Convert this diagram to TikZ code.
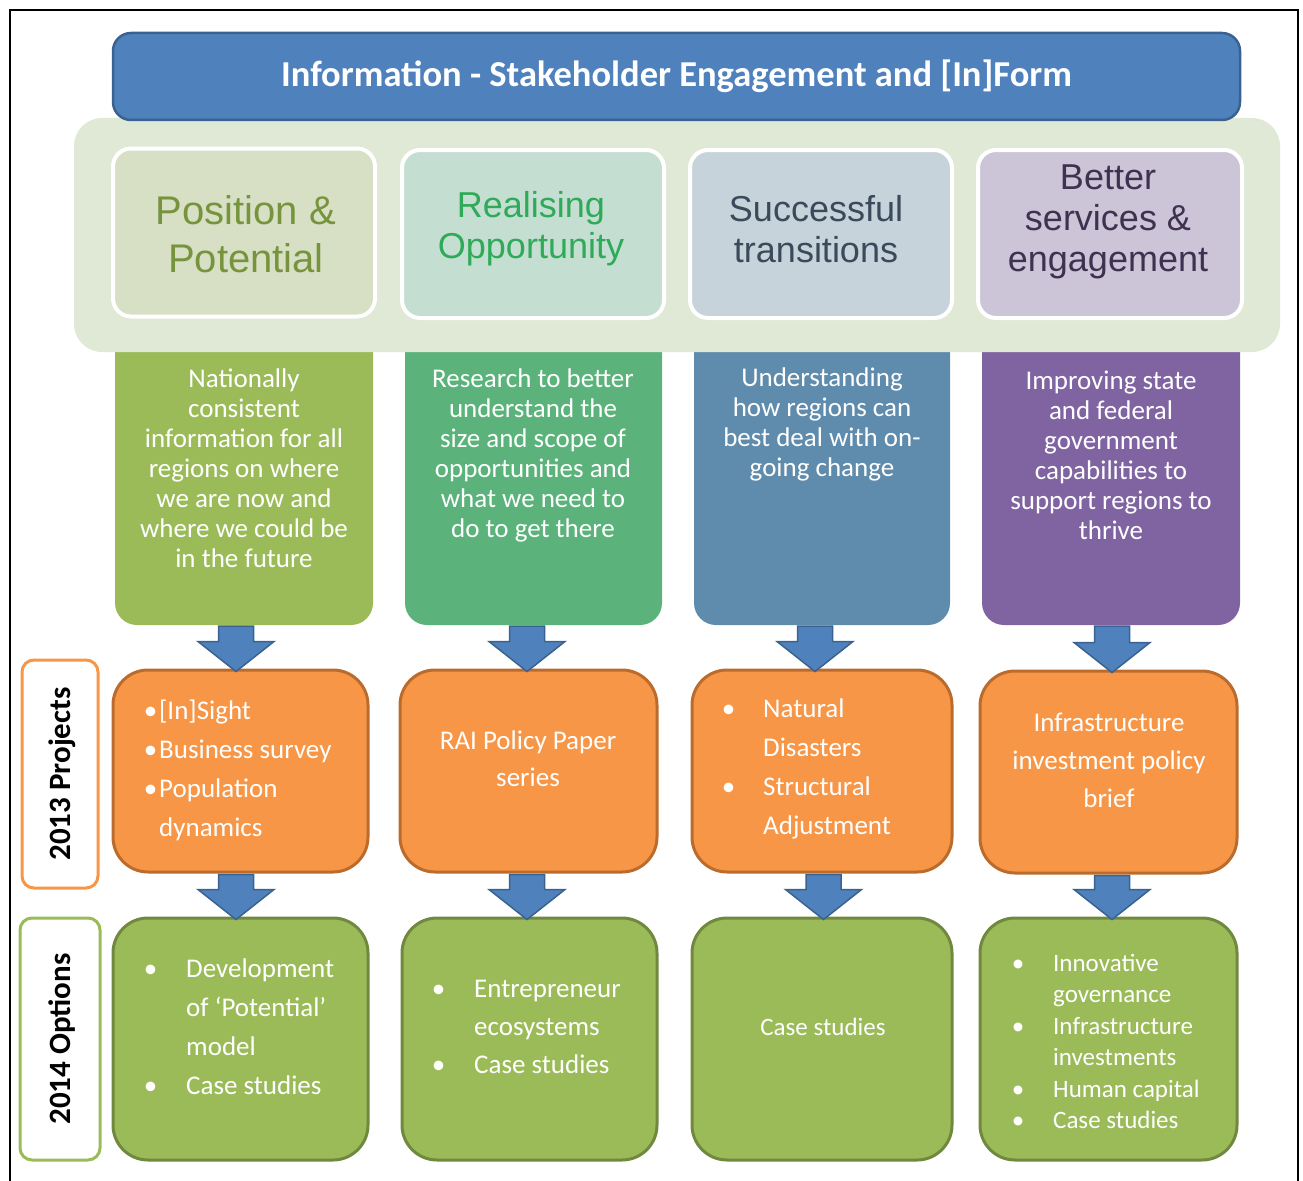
\documentclass[tikz,border=0pt]{standalone}
\usepackage{fontspec}
\setmainfont{Carlito}
\newfontfamily\arialf{Liberation Sans}
\usetikzlibrary{calc}
\definecolor{titleblue}{HTML}{4F81BD}
\definecolor{titleline}{HTML}{3A6291}
\definecolor{panel}{HTML}{E0E8D6}
\definecolor{hAfill}{HTML}{D7E0C5}
\definecolor{hBfill}{HTML}{C5DED2}
\definecolor{hCfill}{HTML}{C6D3DB}
\definecolor{hDfill}{HTML}{CCC4D7}
\definecolor{hAtext}{HTML}{77933C}
\definecolor{hBtext}{HTML}{2EAA58}
\definecolor{hCtext}{HTML}{3B4A5B}
\definecolor{hDtext}{HTML}{3F3251}
\definecolor{dA}{HTML}{9BBB59}
\definecolor{dB}{HTML}{5BB37B}
\definecolor{dC}{HTML}{5F8CAC}
\definecolor{dD}{HTML}{8064A2}
\definecolor{orangefill}{HTML}{F79646}
\definecolor{orangeline}{HTML}{BB6C2D}
\definecolor{greenfill}{HTML}{9BBB59}
\definecolor{greenline}{HTML}{71893F}
\newcommand{\blt}[1]{\llap{\textbullet\hspace{#1}}}
\newcommand{\blockdown}[3]{%
  \filldraw[barrow] let \p1=($(#2.north)+(#3,0)$), \p2=(#1.south) in
   (\x1-17.5pt,\y2-1pt) -- (\x1+17.5pt,\y2-1pt) -- (\x1+17.5pt,\y1+27pt) -- (\x1+38pt,\y1+27pt)
   -- (\x1,\y1-3pt) -- (\x1-38pt,\y1+27pt) -- (\x1-17.5pt,\y1+27pt) -- cycle;}
\begin{document}
\begin{tikzpicture}[x=1pt,y=-1pt,
  descbox/.style={rounded corners=22pt, inner sep=0pt, minimum height=330pt},
  hdrbox/.style={draw=white, line width=4pt, rounded corners=18pt, inner sep=0pt, minimum height=168pt},
  hdrtext/.style={font=\arialf\fontsize{36}{41}\selectfont, align=center, inner sep=0pt},
  desctext/.style={font=\fontsize{27}{30}\selectfont, text=white, align=center, inner sep=0pt},
  orangebox/.style={fill=orangefill, draw=orangeline, line width=3pt, rounded corners=35pt, inner sep=0pt, minimum height=202pt},
  greenbox/.style={fill=greenfill, draw=greenline, line width=3pt, rounded corners=35pt, inner sep=0pt, minimum height=242pt},
  boxtext/.style={font=\fontsize{27}{39}\selectfont, text=white, inner sep=0pt},
  sidebox/.style={fill=white, line width=3pt, rounded corners=12pt, inner sep=0pt},
  sidetext/.style={font=\bfseries\fontsize{31}{31}\selectfont, rotate=90, inner sep=0pt},
  barrow/.style={fill=titleblue, draw=titleline, line width=1.5pt, line join=miter}
]
\useasboundingbox (0,0) rectangle (1303,1180);
\draw[line width=2pt] (10,1181) -- (10,10) -- (1298,10) -- (1298,1181);

% description columns (tops hidden under the panel)
\node[descbox, fill=dA, minimum width=258pt] (d1) at (244,460) {};
\node[descbox, fill=dB, minimum width=257pt] (d2) at (533.5,460) {};
\node[descbox, fill=dC, minimum width=256pt] (d3) at (822,460) {};
\node[descbox, fill=dD, minimum width=258pt] (d4) at (1111,460) {};

% panel and title
\node[fill=panel, rounded corners=28pt, minimum width=1206pt, minimum height=234pt, inner sep=0pt] (panel) at (677,235) {};
\node[fill=titleblue, draw=titleline, line width=2.5pt, rounded corners=18pt, minimum width=1127pt, minimum height=87pt, inner sep=0pt,
  text=white, font=\bfseries\fontsize{36.5}{36.5}\selectfont] (title) at (676.5,76.5) {Information - Stakeholder Engagement and [In]Form};

% header boxes
\node[hdrbox, fill=hAfill, minimum width=262pt] (h1) at (244,232.5) {};
\node[hdrbox, fill=hBfill, minimum width=262pt] (h2) at (533,234) {};
\node[hdrbox, fill=hCfill, minimum width=262pt] (h3) at (821,234) {};
\node[hdrbox, fill=hDfill, minimum width=264pt] (h4) at (1110,234) {};
\node[hdrtext, text=hAtext, font=\arialf\fontsize{40}{48}\selectfont] (h1t) at (246,234) {Position \&\\Potential};
\node[hdrtext, text=hBtext] (h2t) at (531,229) {Realising\\Opportunity};
\node[hdrtext, text=hCtext] (h3t) at (816,229) {Successful\\transitions};
\node[hdrtext, text=hDtext] (h4t) at (1108,222) {Better\\services \&\\engagement};

% description texts
\node[desctext] (d1t) at (244,468) {Nationally\\consistent\\information for all\\regions on where\\we are now and\\where we could be\\in the future};
\node[desctext] (d2t) at (533,455) {Research to better\\understand the\\size and scope of\\opportunities and\\what we need to\\do to get there};
\node[desctext] (d3t) at (822,424) {Understanding\\how regions can\\best deal with on-\\going change};
\node[desctext] (d4t) at (1111,455) {Improving state\\and federal\\government\\capabilities to\\support regions to\\thrive};

% 2013 projects
\node[orangebox, minimum width=255pt] (o1) at (240.5,771) {};
\node[orangebox, minimum width=257pt] (o2) at (528.5,771) {};
\node[orangebox, minimum width=260pt] (o3) at (822,771) {};
\node[orangebox, minimum width=257pt] (o4) at (1108.5,772) {};
\node[boxtext, anchor=west, align=left] (o1t) at (159,770) {\blt{2pt}[In]Sight\\\blt{2pt}Business survey\\\blt{2pt}Population\\dynamics};
\node[boxtext, align=center, font=\fontsize{27}{37}\selectfont] (o2t) at (528,758.5) {RAI Policy Paper\\series};
\node[boxtext, anchor=west, align=left] (o3t) at (763,769) {\blt{28pt}Natural\\Disasters\\\blt{28pt}Structural\\Adjustment};
\node[boxtext, align=center, font=\fontsize{27}{38}\selectfont] (o4t) at (1109,760) {Infrastructure\\investment policy\\brief};

% 2014 options
\node[greenbox, minimum width=255pt] (g1) at (240.5,1039) {};
\node[greenbox, minimum width=255pt] (g2) at (529.5,1039) {};
\node[greenbox, minimum width=260pt] (g3) at (822,1039) {};
\node[greenbox, minimum width=257pt] (g4) at (1108.5,1039) {};
\node[boxtext, anchor=west, align=left] (g1t) at (186,1027) {\blt{29pt}Development\\of ‘Potential’\\model\\\blt{29pt}Case studies};
\node[boxtext, anchor=west, align=left, font=\fontsize{27}{38}\selectfont] (g2t) at (474,1027) {\blt{29pt}Entrepreneur\\ecosystems\\\blt{29pt}Case studies};
\node[boxtext, font=\fontsize{25}{25}\selectfont] (g3t) at (823,1027) {Case studies};
\node[boxtext, anchor=west, align=left, font=\fontsize{25}{31.4}\selectfont] (g4t) at (1053,1041.5) {\blt{29pt}Innovative\\governance\\\blt{29pt}Infrastructure\\investments\\\blt{29pt}Human capital\\\blt{29pt}Case studies};

% side labels
\node[sidebox, draw=orangefill, minimum width=76pt, minimum height=228pt] (s1) at (60,774) {};
\node[sidetext] (s1t) at (62,774) {2013 Projects};
\node[sidebox, draw=greenfill, minimum width=80pt, minimum height=242pt] (s2) at (60,1039) {};
\node[sidetext] (s2t) at (62,1039) {2014 Options};

% block arrows
\blockdown{d1}{o1}{-4.5}
\blockdown{d2}{o2}{-1.5}
\blockdown{d3}{o3}{-7}
\blockdown{d4}{o4}{3.5}
\blockdown{o1}{g1}{-4.5}
\blockdown{o2}{g2}{-2.5}
\blockdown{o3}{g3}{1.5}
\blockdown{o4}{g4}{3.5}
\end{tikzpicture}
\end{document}
